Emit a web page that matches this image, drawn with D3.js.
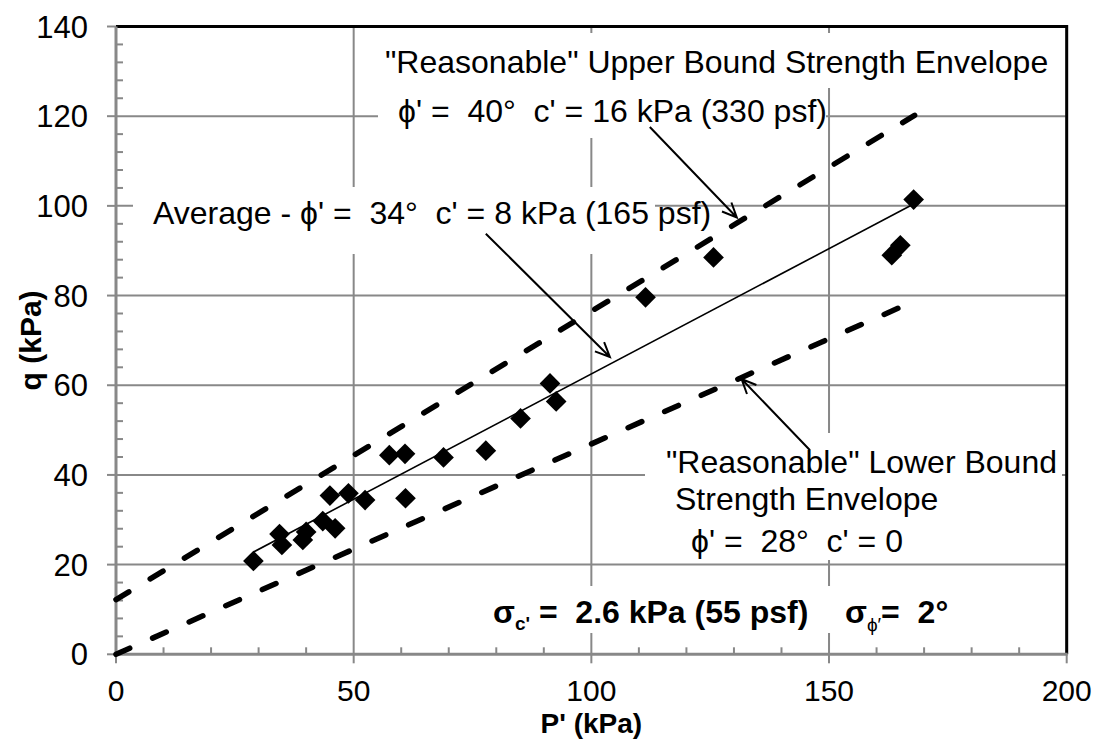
<!DOCTYPE html>
<html><head><meta charset="utf-8">
<script src="https://cdn.jsdelivr.net/npm/d3@7"></script>
<style>
body{margin:0;background:#fff}
svg{display:block}
text{font-family:"Liberation Sans",Arial,sans-serif;fill:#000}
</style>
</head><body>
<svg id="c" width="1096" height="740"></svg>
<script>
// ---- data ----
const pValues = [28.9, 34.4, 34.9, 39.3, 40.0, 43.5, 46.1, 45.0, 48.9, 52.4, 57.5, 60.8, 60.9, 68.9, 77.8, 85.1, 91.3, 92.6, 111.4, 125.7, 163.2, 165.0, 167.8];
const qValues = [20.8, 26.8, 24.4, 25.5, 27.3, 29.7, 28.1, 35.4, 35.9, 34.4, 44.4, 44.7, 34.8, 43.9, 45.4, 52.6, 60.4, 56.4, 79.6, 88.5, 89.0, 91.2, 101.4];
const xTicks = [0, 50, 100, 150, 200];
const yTicks = [0, 20, 40, 60, 80, 100, 120, 140];
const xMinorTicks = d3.range(0, 201, 10);
const yMinorTicks = d3.range(0, 141, 4);
// envelope end points (p, q)
const averageP = [28.9, 167.8], averageQ = [22.8, 100.4];
const upperP = [0, 168], upperQ = [12.2, 120.2];
const lowerP = [0, 168], lowerQ = [0, 78.8];
// annotation arrows: [p0,q0,p1,q1] (start -> tip)
const arrowUpper = [112.3, 117.6, 130.6, 97.4];
const arrowAverage = [77.8, 93.8, 103.9, 66.3];
const arrowLower = [146.0, 45.5, 131.6, 61.4];

const svg = d3.select("#c");
const x = d3.scaleLinear().domain([0, 200]).range([116, 1066.7]);
const y = d3.scaleLinear().domain([0, 140]).range([654.3, 26.5]);
const grey = "#888";

// gridlines
const g = svg.append("g");
g.selectAll(".gy").data(yTicks.slice(1)).join("line")
  .attr("x1", x(0)).attr("x2", x(200)).attr("y1", d => y(d)).attr("y2", d => y(d))
  .attr("stroke", grey).attr("stroke-width", 2);
g.selectAll(".gx").data(xTicks.slice(1)).join("line")
  .attr("y1", y(0)).attr("y2", y(140)).attr("x1", d => x(d)).attr("x2", d => x(d))
  .attr("stroke", grey).attr("stroke-width", 2);
// top/right border (black)
svg.append("path").attr("d", `M${x(0)},${y(140)}H${x(200)}V${y(0)}`)
  .attr("fill", "none").attr("stroke", "#000").attr("stroke-width", 3);

// axes (grey)
const axG = svg.append("g");
axG.append("line").attr("x1", x(0)).attr("x2", x(0)).attr("y1", y(0)+1).attr("y2", y(140)).attr("stroke", grey).attr("stroke-width", 3);
axG.append("line").attr("x1", x(0)).attr("x2", x(200)+1).attr("y1", y(0)).attr("y2", y(0)).attr("stroke", grey).attr("stroke-width", 3);
// minor ticks
axG.selectAll(".my").data(yMinorTicks.filter(d => d % 20 !== 0)).join("line")
  .attr("x1", x(0)).attr("x2", x(0)+7).attr("y1", d => y(d)).attr("y2", d => y(d))
  .attr("stroke", grey).attr("stroke-width", 2);
axG.selectAll(".mx").data(xMinorTicks.filter(d => d % 50 !== 0)).join("line")
  .attr("y1", y(0)).attr("y2", y(0)-7).attr("x1", d => x(d)).attr("x2", d => x(d))
  .attr("stroke", grey).attr("stroke-width", 2);
// major ticks
axG.selectAll(".My").data(yTicks).join("line")
  .attr("x1", x(0)-9).attr("x2", x(0)).attr("y1", d => y(d)).attr("y2", d => y(d))
  .attr("stroke", grey).attr("stroke-width", 2);
axG.selectAll(".Mx").data(xTicks).join("line")
  .attr("y1", y(0)).attr("y2", y(0)+9).attr("x1", d => x(d)).attr("x2", d => x(d))
  .attr("stroke", grey).attr("stroke-width", 2);
// tick labels
axG.selectAll(".ly").data(yTicks).join("text")
  .attr("x", 88).attr("y", d => y(d)).attr("dy", "0.36em")
  .attr("text-anchor", "end").attr("font-size", 31).text(d => d);
axG.selectAll(".lx").data(xTicks).join("text")
  .attr("x", d => x(d)).attr("y", 701)
  .attr("text-anchor", "middle").attr("font-size", 30).text(d => d);
// axis titles
svg.append("text").attr("x", x(100)).attr("y", 733).attr("text-anchor", "middle")
  .attr("font-size", 28).attr("font-weight", "bold").text("P' (kPa)");
svg.append("text").attr("transform", `translate(41,${y(70)}) rotate(-90)`).attr("text-anchor", "middle")
  .attr("font-size", 30).attr("font-weight", "bold").text("q (kPa)");

// envelopes
const line = d3.line().x(d => x(d[0])).y(d => y(d[1]));
function pts(P, Q) { return P.map((p, i) => [p, Q[i]]); }
[pts(upperP, upperQ), pts(lowerP, lowerQ)].forEach(d => {
  svg.append("path").attr("d", line(d)).attr("fill", "none").attr("stroke", "#000")
    .attr("stroke-dasharray", "15,25").attr("stroke-linecap", "round").attr("stroke-width", 5.5);
});
svg.append("path").attr("d", line(pts(averageP, averageQ))).attr("fill", "none")
  .attr("stroke", "#000").attr("stroke-width", 1.6);

// data points (diamonds)
const sym = d3.symbol().type(d3.symbolSquare).size(214);
svg.append("g").selectAll("path").data(pValues.map((p, i) => [p, qValues[i]])).join("path")
  .attr("d", sym).attr("transform", d => `translate(${x(d[0])},${y(d[1])}) rotate(45)`)
  .attr("fill", "#000");

// white text boxes
function box(x0, y0, x1, y1) {
  svg.append("rect").attr("x", x0).attr("y", y0).attr("width", x1 - x0).attr("height", y1 - y0).attr("fill", "#fff");
}
box(378, 33, 1060, 88);
box(378, 88, 826, 138);
box(133, 187, 655, 254);
box(645, 433, 1062, 560);
box(488, 586, 965, 633);

// arrows
function arrow(a) {
  const [x0, y0, x1, y1] = [x(a[0]), y(a[1]), x(a[2]), y(a[3])];
  const ang = Math.atan2(y1 - y0, x1 - x0), L = 16, s = 0.42;
  const ax = x1 - L * Math.cos(ang - s), ay = y1 - L * Math.sin(ang - s);
  const bx = x1 - L * Math.cos(ang + s), by = y1 - L * Math.sin(ang + s);
  svg.append("path").attr("d", `M${x0},${y0}L${x1},${y1}M${ax},${ay}L${x1},${y1}L${bx},${by}`)
    .attr("fill", "none").attr("stroke", "#000").attr("stroke-width", 2);
}
[arrowUpper, arrowAverage, arrowLower].forEach(arrow);

// annotation texts
function txt(px, py, s) {
  return svg.append("text").attr("x", px).attr("y", py).attr("font-size", 32)
    .style("white-space", "pre").text(s);
}
txt(385, 73, "\"Reasonable\" Upper Bound Strength Envelope");
txt(398, 122, "ϕ' =  40°  c' = 16 kPa (330 psf)");
txt(153, 224, "Average - ϕ' =  34°  c' = 8 kPa (165 psf)");
txt(666, 473, "\"Reasonable\" Lower Bound");
txt(675, 510, "Strength Envelope");
txt(691, 551.5, "ϕ' =  28°  c' = 0");

const s1 = svg.append("text").attr("x", 493).attr("y", 623).attr("font-size", 32)
  .attr("font-weight", "bold").style("white-space", "pre");
s1.append("tspan").text("σ");
s1.append("tspan").attr("font-size", 19).attr("dy", 7).text("c'");
s1.append("tspan").attr("dy", -7).text(" =  2.6 kPa (55 psf)");
const s2 = svg.append("text").attr("x", 845).attr("y", 623).attr("font-size", 32)
  .attr("font-weight", "bold").style("white-space", "pre");
s2.append("tspan").text("σ");
s2.append("tspan").attr("font-size", 19).attr("font-weight", "normal").attr("dy", 8).text("ϕ′");
s2.append("tspan").attr("dy", -8).text("=  2°");
</script>
</body></html>
